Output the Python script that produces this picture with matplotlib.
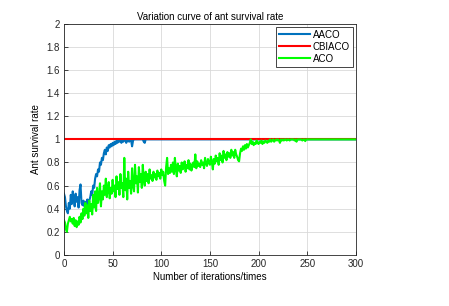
import numpy as np
import matplotlib
matplotlib.use('Agg')
import matplotlib.pyplot as plt
from matplotlib.ticker import FormatStrFormatter

plt.rcParams['font.family'] = ['Liberation Sans', 'DejaVu Sans']

# iterations 0..300
iters = list(range(0, 301))

# AACO survival rate (reaches 1 around iteration 85, hidden under CBIACO after)
aaco_head = [
    0.53, 0.50, 0.42, 0.38, 0.36, 0.45, 0.40, 0.52, 0.44, 0.55,
    0.48, 0.42, 0.53, 0.46, 0.50, 0.41, 0.56, 0.61, 0.45, 0.43,
    0.47, 0.42, 0.46, 0.44, 0.48, 0.43, 0.47, 0.50, 0.55, 0.52,
    0.60, 0.58, 0.66, 0.70, 0.68, 0.74, 0.72, 0.80, 0.78, 0.84,
    0.82, 0.88, 0.91, 0.87, 0.93, 0.90, 0.95, 0.93, 0.96, 0.94,
    0.97, 0.95, 0.98, 0.96, 0.99, 0.97, 1.00, 0.98, 0.99, 0.97,
    1.00, 0.98, 0.99, 1.00, 0.97, 0.99, 1.00, 0.98, 1.00, 0.99,
    0.94, 0.99, 1.00, 1.00, 1.00, 1.00, 1.00, 1.00, 1.00, 1.00,
    1.00, 1.00, 0.98, 0.97, 1.00,
]
aaco = aaco_head + [1.0] * (301 - len(aaco_head))

# CBIACO survival rate
cbiaco = [1.0] * 301

# ACO survival rate
aco_head = [
    0.30, 0.28, 0.22, 0.20, 0.27, 0.30, 0.33, 0.29, 0.31, 0.27,
    0.32, 0.25, 0.30, 0.24, 0.29, 0.26, 0.33, 0.28, 0.36, 0.31,
    0.40, 0.34, 0.45, 0.36, 0.43, 0.32, 0.47, 0.38, 0.44, 0.35,
    0.52, 0.41, 0.55, 0.38, 0.58, 0.45, 0.50, 0.62, 0.42, 0.55,
    0.48, 0.60, 0.52, 0.66, 0.50, 0.56, 0.63, 0.49, 0.58, 0.53,
    0.65, 0.55, 0.60, 0.50, 0.68, 0.57, 0.63, 0.52, 0.70, 0.58,
    0.62, 0.50, 0.84, 0.56, 0.66, 0.48, 0.72, 0.58, 0.64, 0.53,
    0.75, 0.60, 0.55, 0.78, 0.62, 0.68, 0.54, 0.76, 0.63, 0.70,
    0.58, 0.78, 0.65, 0.60, 0.72, 0.64, 0.70, 0.62, 0.74, 0.66,
    0.69, 0.64, 0.72, 0.67, 0.70, 0.65, 0.73, 0.68, 0.71, 0.66,
    0.74, 0.69, 0.72, 0.64, 0.60, 0.76, 0.84, 0.70, 0.75, 0.71,
    0.78, 0.72, 0.80, 0.70, 0.84, 0.74, 0.68, 0.79, 0.73, 0.77,
    0.71, 0.80, 0.74, 0.76, 0.81, 0.72, 0.78, 0.75, 0.82, 0.74,
    0.79, 0.73, 0.77, 0.80, 0.76, 0.87, 0.75, 0.81, 0.77, 0.79,
    0.76, 0.82, 0.78, 0.80, 0.75, 0.84, 0.79, 0.77, 0.83, 0.80,
    0.78, 0.85, 0.80, 0.74, 0.83, 0.79, 0.86, 0.81, 0.84, 0.78,
    0.88, 0.82, 0.86, 0.80, 0.90, 0.84, 0.87, 0.82, 0.89, 0.85,
    0.88, 0.84, 0.91, 0.86, 0.89, 0.84, 0.91, 0.87, 0.85, 0.82,
    0.81, 0.88, 0.92, 0.90, 0.94, 0.91, 0.95, 0.92, 0.96, 0.93,
    0.95, 0.97, 1.00, 0.96, 0.98, 0.95, 0.97, 0.96, 0.99, 0.97,
    0.96, 0.98, 0.97, 0.99, 0.96, 0.98, 0.97, 0.99, 0.98, 0.97,
    0.99, 0.98, 1.00, 0.98, 0.99, 1.00, 0.98, 0.99, 1.00, 0.99,
    1.00, 0.99, 0.97, 1.00, 0.99, 1.00, 0.99, 1.00, 1.00, 0.99,
    1.00, 1.00, 0.99, 1.00, 1.00, 1.00, 1.00, 0.99, 1.00, 0.98,
    1.00, 1.00, 1.00, 1.00, 1.00, 0.99, 1.00, 1.00, 0.985, 1.00,
]
aco = aco_head + [1.0] * (301 - len(aco_head))

fig = plt.figure(figsize=(4.49, 3.06), dpi=100)
ax = fig.add_axes([0.1425, 0.167, 0.65, 0.755])

ax.plot(iters, aaco, color='#0072BD', lw=1.5, label='AACO')
ax.plot(iters, cbiaco, color='#FF0000', lw=1.5, label='CBIACO')
ax.plot(iters, aco, color='#00FF00', lw=1.5, label='ACO')

ax.set_xlim(0, 300)
ax.set_ylim(0, 2)
ax.set_xticks(np.arange(0, 301, 50))
ax.set_yticks(np.arange(0, 2.01, 0.2))
ax.yaxis.set_major_formatter(FormatStrFormatter('%g'))
ax.grid(True, color='#d9d9d9', lw=0.6)
ax.set_axisbelow(True)
ax.tick_params(direction='in', length=3, width=0.6, labelsize=7, colors='#262626', pad=3)
for s in ax.spines.values():
    s.set_linewidth(0.6)
    s.set_color('#262626')

ax.set_title('Variation curve of ant survival rate', fontsize=7, pad=3)
ax.set_xlabel('Number of iterations/times', fontsize=7, labelpad=2)
ax.set_ylabel('Ant survival rate', fontsize=7, labelpad=4)

leg = ax.legend(loc='upper right', fontsize=7, fancybox=False, framealpha=1,
                edgecolor='#262626', handlelength=3.2, borderpad=0.3,
                labelspacing=0.2, handletextpad=0.3, borderaxespad=0.3)
leg.get_frame().set_linewidth(0.6)

plt.savefig('out.png', dpi=100)
